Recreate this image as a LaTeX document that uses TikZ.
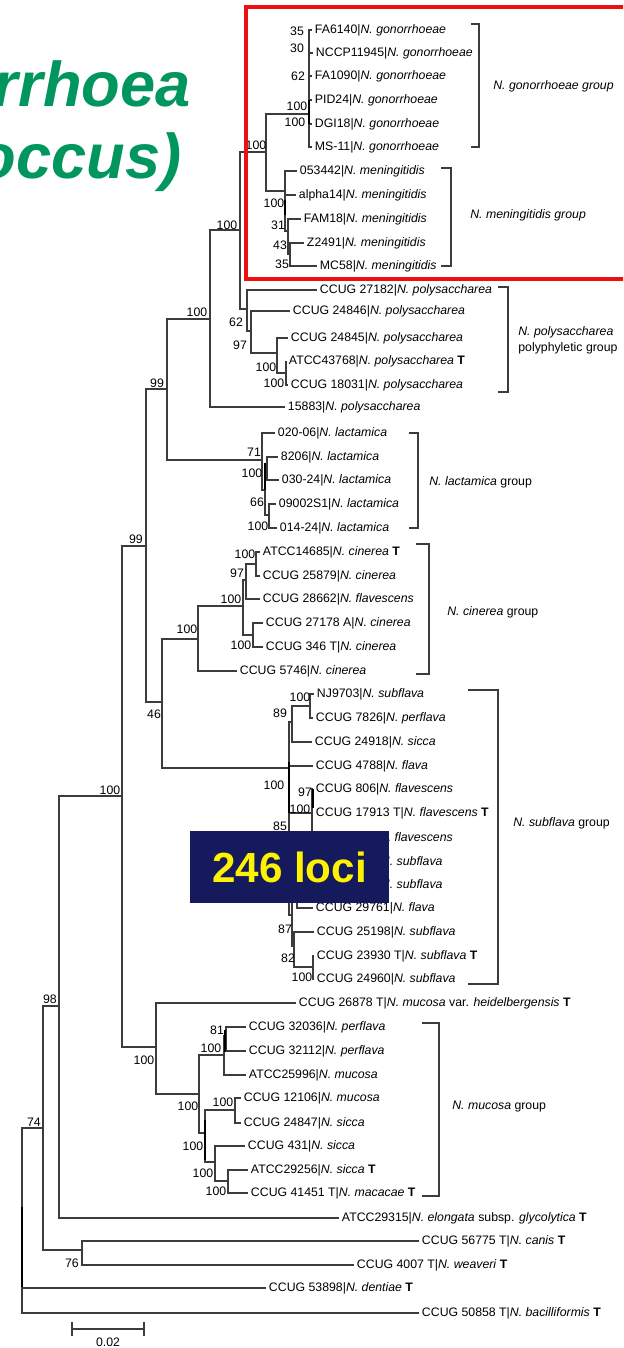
\documentclass[tikz,border=0pt]{standalone}
\usepackage{fontspec}
\setmainfont{Liberation Sans}
\definecolor{titlegreen}{RGB}{0,150,94}
\definecolor{locinavy}{RGB}{20,26,92}
\definecolor{branchgray}{RGB}{60,60,60}
\definecolor{boxred}{RGB}{238,16,16}
\begin{document}
\begin{tikzpicture}[x=0.02cm,y=-0.02cm,br/.style={draw=branchgray,line width=0.6pt},thk/.style={draw=black,line width=1.3pt},leaf/.style={anchor=west,inner sep=1.5pt,font=\fontsize{7}{8}\selectfont},boot/.style={inner sep=0pt,font=\fontsize{7}{8}\selectfont},grp/.style={anchor=west,inner sep=0pt,align=left,font=\fontsize{7}{9}\selectfont},brk/.style={draw=branchgray,line width=0.6pt},ttl/.style={anchor=base east,inner sep=0pt,text=titlegreen,font=\bfseries\itshape\fontsize{36}{44}\selectfont}]
\useasboundingbox (0,0) rectangle (623,1348);
\clip (0,0) rectangle (623,1348);
% title, cut at the left edge
\node[ttl] (ttl1) at (191,107) {rrhoea};
\node[ttl] (ttl2) at (182,179) {occus)};
% leaves
\node[leaf] (g1) at (312,30) {FA6140|\textit{N. gonorrhoeae}};
\node[leaf] (g2) at (313,53) {NCCP11945|\textit{N. gonorrhoeae}};
\node[leaf] (g3) at (312,76) {FA1090|\textit{N. gonorrhoeae}};
\node[leaf] (g4) at (312,100) {PID24|\textit{N. gonorrhoeae}};
\node[leaf] (g5) at (312,124) {DGI18|\textit{N. gonorrhoeae}};
\node[leaf] (g6) at (312,147) {MS-11|\textit{N. gonorrhoeae}};
\node[leaf] (m1) at (297,171) {053442|\textit{N. meningitidis}};
\node[leaf] (m2) at (296,195) {alpha14|\textit{N. meningitidis}};
\node[leaf] (m3) at (301,219) {FAM18|\textit{N. meningitidis}};
\node[leaf] (m4) at (304,243) {Z2491|\textit{N. meningitidis}};
\node[leaf] (m5) at (317,266) {MC58|\textit{N. meningitidis}};
\node[leaf] (p1) at (317,290) {CCUG 27182|\textit{N. polysaccharea}};
\node[leaf] (p2) at (290,311) {CCUG 24846|\textit{N. polysaccharea}};
\node[leaf] (p3) at (288,338) {CCUG 24845|\textit{N. polysaccharea}};
\node[leaf] (p4) at (286,361) {ATCC43768|\textit{N. polysaccharea} \textbf{T}};
\node[leaf] (p5) at (288,385) {CCUG 18031|\textit{N. polysaccharea}};
\node[leaf] (p6) at (285,407) {15883|\textit{N. polysaccharea}};
\node[leaf] (l1) at (275,433) {020-06|\textit{N. lactamica}};
\node[leaf] (l2) at (278,457) {8206|\textit{N. lactamica}};
\node[leaf] (l3) at (279,480) {030-24|\textit{N. lactamica}};
\node[leaf] (l4) at (276,504) {09002S1|\textit{N. lactamica}};
\node[leaf] (l5) at (277,528) {014-24|\textit{N. lactamica}};
\node[leaf] (c1) at (260,552) {ATCC14685|\textit{N. cinerea} \textbf{T}};
\node[leaf] (c2) at (260,576) {CCUG 25879|\textit{N. cinerea}};
\node[leaf] (c3) at (260,599) {CCUG 28662|\textit{N. flavescens}};
\node[leaf] (c4) at (263,623) {CCUG 27178 A|\textit{N. cinerea}};
\node[leaf] (c5) at (263,647) {CCUG 346 T|\textit{N. cinerea}};
\node[leaf] (c6) at (237,671) {CCUG 5746|\textit{N. cinerea}};
\node[leaf] (s1) at (314,694) {NJ9703|\textit{N. subflava}};
\node[leaf] (s2) at (313,718) {CCUG 7826|\textit{N. perflava}};
\node[leaf] (s3) at (312,742) {CCUG 24918|\textit{N. sicca}};
\node[leaf] (s4) at (313,766) {CCUG 4788|\textit{N. flava}};
\node[leaf] (s5) at (313,789) {CCUG 806|\textit{N. flavescens}};
\node[leaf] (s6) at (313,813) {CCUG 17913 T|\textit{N. flavescens} \textbf{T}};
\node[leaf] (s7) at (376,837) {\textit{N. flavescens}};
\node[leaf] (s8) at (378,861) {\textit{N. subflava}};
\node[leaf] (s9) at (378,884) {\textit{N. subflava}};
\node[leaf] (s10) at (313,908) {CCUG 29761|\textit{N. flava}};
\node[leaf] (s11) at (314,932) {CCUG 25198|\textit{N. subflava}};
\node[leaf] (s12) at (314,956) {CCUG 23930 T|\textit{N. subflava} \textbf{T}};
\node[leaf] (s13) at (314,979) {CCUG 24960|\textit{N. subflava}};
\node[leaf] (h1) at (296,1003) {CCUG 26878 T|\textit{N. mucosa} var. \textit{heidelbergensis} \textbf{T}};
\node[leaf] (u1) at (246,1027) {CCUG 32036|\textit{N. perflava}};
\node[leaf] (u2) at (246,1051) {CCUG 32112|\textit{N. perflava}};
\node[leaf] (u3) at (246,1075) {ATCC25996|\textit{N. mucosa}};
\node[leaf] (u4) at (241,1098) {CCUG 12106|\textit{N. mucosa}};
\node[leaf] (u5) at (241,1123) {CCUG 24847|\textit{N. sicca}};
\node[leaf] (u6) at (245,1146) {CCUG 431|\textit{N. sicca}};
\node[leaf] (u7) at (248,1170) {ATCC29256|\textit{N. sicca} \textbf{T}};
\node[leaf] (u8) at (248,1193) {CCUG 41451 T|\textit{N. macacae} \textbf{T}};
\node[leaf] (e1) at (339,1218) {ATCC29315|\textit{N. elongata} subsp. \textit{glycolytica} \textbf{T}};
\node[leaf] (k1) at (419,1241) {CCUG 56775 T|\textit{N. canis} \textbf{T}};
\node[leaf] (k2) at (354,1265) {CCUG 4007 T|\textit{N. weaveri} \textbf{T}};
\node[leaf] (d1) at (266,1288) {CCUG 53898|\textit{N. dentiae} \textbf{T}};
\node[leaf] (b1) at (419,1313) {CCUG 50858 T|\textit{N. bacilliformis} \textbf{T}};
% inner nodes
\coordinate (ng) at (309,114);
\coordinate (nm1) at (285,191);
\coordinate (nm2) at (288,231);
\coordinate (nm3) at (290,254);
\coordinate (ngm) at (266,152);
\coordinate (np) at (240,230);
\coordinate (nq) at (247,309);
\coordinate (nr) at (251,331);
\coordinate (ns) at (277,353);
\coordinate (nt) at (286,373);
\coordinate (n100b) at (210,319);
\coordinate (nl) at (262,460);
\coordinate (nl2) at (265,490);
\coordinate (nl3) at (267,468);
\coordinate (nl4) at (269,515);
\coordinate (n99a) at (167,389);
\coordinate (n99b) at (146,546);
\coordinate (n46) at (162,702);
\coordinate (nc1) at (198,639);
\coordinate (nc2) at (243,606);
\coordinate (nc3) at (246,580);
\coordinate (nc4) at (256,564);
\coordinate (nc5) at (253,635);
\coordinate (nf1) at (289,768);
\coordinate (nf3) at (292,722);
\coordinate (nf4) at (310,706);
\coordinate (nf6) at (289,866);
\coordinate (nfx) at (312,813);
\coordinate (nf8) at (292,915);
\coordinate (nf12) at (297,884);
\coordinate (nf10) at (294,946);
\coordinate (nf11) at (313,967);
\coordinate (n100c) at (122,796);
\coordinate (nx) at (156,1047);
\coordinate (ny) at (199,1094);
\coordinate (nz1) at (224,1055);
\coordinate (nz2) at (226,1036);
\coordinate (nv) at (205,1133);
\coordinate (nu1) at (235,1110);
\coordinate (nu2) at (215,1162);
\coordinate (nu3) at (228,1181);
\coordinate (n98) at (59,1006);
\coordinate (n74) at (43,1128);
\coordinate (n76) at (82,1250);
\coordinate (nroot) at (22,1220);
% branches
\draw[br] (ng) |- (g1.west) (ng) |- (g2.west) (ng) |- (g3.west) (ng) |- (g4.west) (ng) |- (g5.west) (ng) |- (g6.west);
\draw[br] (nm1) |- (m1.west) (nm1) |- (m2.west) (nm1) |- (nm2) (nm2) |- (m3.west) (nm2) |- (nm3) (nm3) |- (m4.west) (nm3) |- (m5.west);
\draw[br] (ngm) |- (ng) (ngm) |- (nm1) (np) |- (ngm) (np) |- (nq);
\draw[br] (nq) |- (p1.west) (nq) |- (nr) (nr) |- (p2.west) (nr) |- (ns) (ns) |- (p3.west) (ns) |- (nt) (nt) |- (p4.west) (nt) |- (p5.west);
\draw[br] (n100b) |- (np) (n100b) |- (p6.west);
\draw[br] (nl) |- (l1.west) (nl) |- (nl2) (nl2) |- (nl3) (nl2) |- (nl4) (nl3) |- (l2.west) (nl3) |- (l3.west) (nl4) |- (l4.west) (nl4) |- (l5.west);
\draw[br] (n99a) |- (n100b) (n99a) |- (nl) (n99b) |- (n99a) (n99b) |- (n46);
\draw[br] (n46) |- (nc1) (n46) |- (nf1);
\draw[br] (nc1) |- (nc2) (nc1) |- (c6.west) (nc2) |- (nc3) (nc2) |- (nc5) (nc3) |- (nc4) (nc3) |- (c3.west) (nc4) |- (c1.west) (nc4) |- (c2.west) (nc5) |- (c4.west) (nc5) |- (c5.west);
\draw[br] (nf1) |- (nf3) (nf1) |- (s4.west) (nf1) |- (nf6) (nf3) |- (nf4) (nf3) |- (s3.west) (nf4) |- (s1.west) (nf4) |- (s2.west);
\draw[br] (nf6) |- (nfx) (nf6) |- (nf8) (nfx) |- (s5.west) (nfx) |- (s6.west) (nfx) |- (s7.west);
\draw[br] (nf8) |- (nf12) (nf8) |- (nf10) (nf12) |- (s8.west) (nf12) |- (s9.west) (nf12) |- (s10.west) (nf10) |- (s11.west) (nf10) |- (nf11) (nf11) |- (s12.west) (nf11) |- (s13.west);
\draw[br] (n100c) |- (n99b) (n100c) |- (nx);
\draw[br] (nx) |- (h1.west) (nx) |- (ny) (ny) |- (nz1) (ny) |- (nv) (nz1) |- (nz2) (nz1) |- (u3.west) (nz2) |- (u1.west) (nz2) |- (u2.west);
\draw[br] (nv) |- (nu1) (nv) |- (nu2) (nu1) |- (u4.west) (nu1) |- (u5.west) (nu2) |- (u6.west) (nu2) |- (nu3) (nu3) |- (u7.west) (nu3) |- (u8.west);
\draw[br] (n98) |- (n100c) (n98) |- (e1.west) (n74) |- (n98) (n74) |- (n76) (n76) |- (k1.west) (n76) |- (k2.west);
\draw[br] (nroot) |- (n74) (nroot) |- (d1.west) (nroot) |- (b1.west);
% heavy short stretches
\draw[thk] (309,100) -- (309,124);
\draw[thk] (285,200) -- (285,215);
\draw[thk] (265,463) -- (265,490);
\draw[thk] (289,762) -- (289,813);
\draw[thk] (313,789) -- (313,808);
\draw[thk] (225,1030) -- (225,1052);
\draw[thk] (205,1120) -- (205,1160);
\draw[thk] (22,1207) -- (22,1287);
% bootstrap values
\node[boot] (b01) at (297,31) {35};
\node[boot] (b02) at (297,48) {30};
\node[boot] (b03) at (298,76) {62};
\node[boot] (b04) at (297,106) {100};
\node[boot] (b05) at (295,122) {100};
\node[boot] (b06) at (274,203) {100};
\node[boot] (b07) at (278,225) {31};
\node[boot] (b08) at (280,245) {43};
\node[boot] (b09) at (282,264) {35};
\node[boot] (b10) at (256,145) {100};
\node[boot] (b11) at (227,225) {100};
\node[boot] (b12) at (197,312) {100};
\node[boot] (b13) at (236,322) {62};
\node[boot] (b14) at (240,345) {97};
\node[boot] (b15) at (266,367) {100};
\node[boot] (b16) at (274,383) {100};
\node[boot] (b17) at (157,383) {99};
\node[boot] (b18) at (254,452) {71};
\node[boot] (b19) at (252,473) {100};
\node[boot] (b20) at (257,502) {66};
\node[boot] (b21) at (258,526) {100};
\node[boot] (b22) at (136,539) {99};
\node[boot] (b23) at (187,629) {100};
\node[boot] (b24) at (231,599) {100};
\node[boot] (b25) at (237,573) {97};
\node[boot] (b26) at (245,554) {100};
\node[boot] (b27) at (241,645) {100};
\node[boot] (b28) at (154,714) {46};
\node[boot] (b29) at (300,697) {100};
\node[boot] (b30) at (280,713) {89};
\node[boot] (b31) at (274,785) {100};
\node[boot] (b32) at (305,792) {97};
\node[boot] (b33) at (300,809) {100};
\node[boot] (b34) at (280,826) {85};
\node[boot] (b35) at (285,929) {87};
\node[boot] (b36) at (288,958) {82};
\node[boot] (b37) at (302,977) {100};
\node[boot] (b38) at (110,790) {100};
\node[boot] (b39) at (144,1060) {100};
\node[boot] (b40) at (188,1106) {100};
\node[boot] (b41) at (217,1030) {81};
\node[boot] (b42) at (211,1048) {100};
\node[boot] (b43) at (223,1102) {100};
\node[boot] (b44) at (193,1146) {100};
\node[boot] (b45) at (203,1173) {100};
\node[boot] (b46) at (216,1191) {100};
\node[boot] (b47) at (50,999) {98};
\node[boot] (b48) at (34,1122) {74};
\node[boot] (b49) at (72,1263) {76};
% group brackets
\draw[brk] (471,24) -- (479,24) -- (479,147) -- (471,147);
\draw[brk] (441,168) -- (451,168) -- (451,266) -- (441,266);
\draw[brk] (498,287) -- (508,287) -- (508,392) -- (498,392);
\draw[brk] (409,433) -- (418,433) -- (418,528) -- (409,528);
\draw[brk] (416,544) -- (429,544) -- (429,674) -- (416,674);
\draw[brk] (468,690) -- (498,690) -- (498,984) -- (468,984);
\draw[brk] (422,1023) -- (439,1023) -- (439,1196) -- (422,1196);
\node[grp] (gon) at (493,86) {\textit{N. gonorrhoeae group}};
\node[grp] (men) at (470,215) {\textit{N. meningitidis group}};
\node[grp] (pol) at (518,340) {\textit{N. polysaccharea}\\polyphyletic group};
\node[grp] (lac) at (429,482) {\textit{N. lactamica} group};
\node[grp] (cin) at (447,612) {\textit{N. cinerea} group};
\node[grp] (sub) at (513,823) {\textit{N. subflava} group};
\node[grp] (muc) at (452,1107) {\textit{N. mucosa} group};
% scale bar
\coordinate (sb1) at (72,1329);
\coordinate (sb2) at (144,1329);
\draw[br] (sb1) -- (sb2) ([yshift=4]sb1) -- ([yshift=-4]sb1) ([yshift=4]sb2) -- ([yshift=-4]sb2);
\node[boot] (sbl) at (108,1342) {0.02};
% overlays
\draw[draw=boxred,line width=2.2pt] (246,7) rectangle (640,279);
\node[fill=locinavy,minimum width=3.98cm,minimum height=1.44cm,text=yellow,font=\bfseries\fontsize{24}{28}\selectfont] (loci) at (289.5,867) {246 loci};
\end{tikzpicture}
\end{document}
